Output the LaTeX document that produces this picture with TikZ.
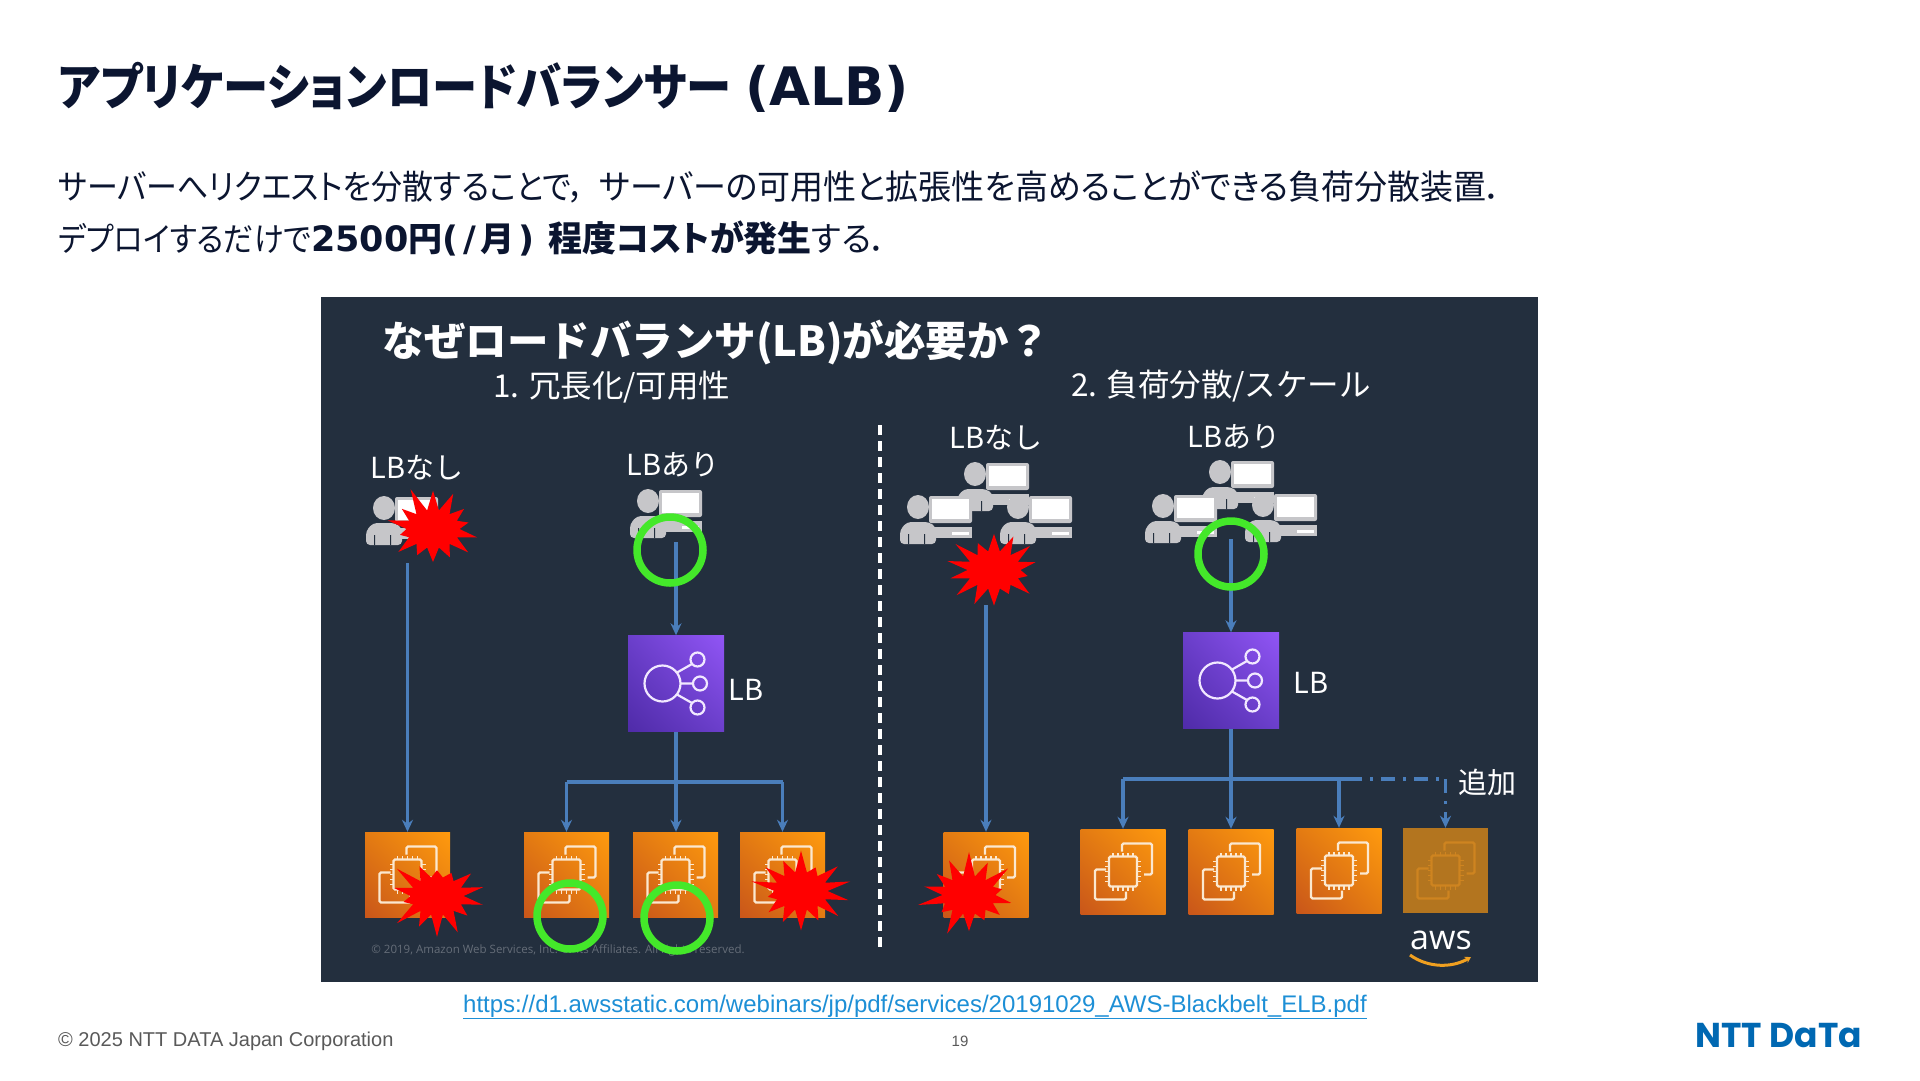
\documentclass[tikz,border=0pt]{standalone}
\usepackage{fontspec}
\setmainfont{Liberation Sans}
\newfontfamily\jp[RawFeature=+palt,FakeStretch=0.91]{Noto Sans CJK JP}
\newfontfamily\jpwide[RawFeature=+palt,FakeStretch=0.97]{Noto Sans CJK JP}
\newfontfamily\jphead[RawFeature=+palt,FakeStretch=0.905]{Noto Sans CJK JP}
\newfontfamily\jpfull{Noto Sans CJK JP}
\newfontfamily\lat{DejaVu Sans}
\newfontfamily\opn{Open Sans}
\newfontfamily\logofont{Poppins}
\usetikzlibrary{shapes.symbols,arrows.meta,shadings}
\newcommand{\fs}[1]{\fontsize{#1}{#1}\selectfont}
\definecolor{inkcol}{HTML}{0B1530}
\definecolor{panelcol}{HTML}{232F3E}
\definecolor{wirecol}{HTML}{4A7EBB}
\definecolor{greycol}{HTML}{C6C6C9}
\definecolor{redcol}{HTML}{FF0000}
\definecolor{okcol}{HTML}{44E82A}
\definecolor{linkcol}{HTML}{1D8FD6}
\definecolor{footcol}{HTML}{595959}
\definecolor{nttcol}{HTML}{0068B2}
\definecolor{smilecol}{HTML}{F0A020}
\tikzset{
  wire/.style={wirecol,line width=3.8pt,-{Stealth[length=12pt,width=11pt]}},
  trunk/.style={wirecol,line width=3.8pt},
  okring/.style={draw=okcol,line width=7.5pt,circle,inner sep=0pt,minimum size=66pt},
  burst/.style={starburst,fill=redcol,draw=none,inner sep=0pt,minimum width=105pt,minimum height=90pt,
    starburst points=14,starburst point height=26pt,random starburst=#1},
  panellabel/.style={text=white,inner sep=0pt,font=\jpfull\fs{29}},
  ec2box/.style={minimum width=85pt,minimum height=85pt,inner sep=0pt,shade,
    lower left=ec2dark,upper right=ec2light,upper left=ec2mid,lower right=ec2mid},
  dimbox/.style={minimum width=85pt,minimum height=85pt,inner sep=0pt,fill=dimfill},
  lbbox/.style={minimum width=96pt,minimum height=96pt,inner sep=0pt,shade,
    lower left=lbdark,upper right=lblight,upper left=lbmid,lower right=lbmid},
  pics/ec2icon/.style={code={
    \draw[#1,line width=2.4pt,rounded corners=1.5pt] (-1,-20)--(-1,-28)--(29,-28)--(29,3)--(21,3);
    \draw[#1,line width=2.4pt,rounded corners=1.5pt] (-17,-2)--(-28,-2)--(-28,28)--(3,28)--(3,20);
    \draw[#1,line width=2.4pt,rounded corners=1.5pt] (-14,-15) rectangle (14,15);
    \foreach \t in {-10,-5,0,5,10}{
      \draw[#1,line width=1.7pt] (\t,-15)--(\t,-19) (\t,15)--(\t,19) (-14,\t)--(-18,\t) (14,\t)--(18,\t);
    }
  }},
  pics/lbicon/.style={code={
    \draw[#1,line width=2.2pt] (-13.5,0) circle (18);
    \draw[#1,line width=2.2pt] (21.5,-24) circle (7) (24,0) circle (7) (21.5,24) circle (7);
    \draw[#1,line width=2.2pt] (1,-11)--(16,-19.5) (4.5,0)--(17,0) (1,11)--(16,19.5);
  }},
  pics/userpc/.style={code={
    \fill[greycol] (18,11) ellipse (11 and 12);
    \fill[greycol,rounded corners=4pt] (0,48)--(0,34)--(7,26)--(29,26)--(36,31)--(36,48)--cycle;
    \fill[greycol,rounded corners=2pt] (29,0) rectangle (72,27);
    \fill[white] (32,3) rectangle (69,23);
    \fill[greycol] (35,31) rectangle (72,42);
    \fill[white] (52,35.5) rectangle (69,38.5);
    \fill[panelcol] (8,38) rectangle (9,48) (24,38) rectangle (25,48);
  }}
}
\definecolor{ec2dark}{HTML}{C9561A}
\definecolor{ec2mid}{HTML}{E37B12}
\definecolor{ec2light}{HTML}{FF9A0E}
\definecolor{ec2line}{HTML}{FBE8D0}
\definecolor{dimfill}{HTML}{B3751F}
\definecolor{dimline}{HTML}{CE8420}
\definecolor{lbdark}{HTML}{4F2BA8}
\definecolor{lbmid}{HTML}{6B3FCB}
\definecolor{lblight}{HTML}{9155F5}
\definecolor{lbline}{HTML}{F1E8FF}
\begin{document}
\begin{tikzpicture}[>=stealth,x=1pt,y=-1pt]
  \useasboundingbox (0,0) rectangle (1920,1080);
  \fill[white] (0,0) rectangle (1920,1080);
  % slide text
  \node[anchor=west,inner sep=0pt,text=inkcol] (slidetitle) at (58,87) {\jphead\bfseries\fs{50}アプリケーションロードバランサー\hspace{14pt}{\lat\fs{53}(ALB)}};
  \node[anchor=west,inner sep=0pt,text=inkcol] (lineone) at (58,187) {\fs{34}{\jp サーバーへリクエストを分散することで，}\hspace{14pt}{\jpwide サーバーの可用性と拡張性を高めることができる負荷分散装置．}};
  \node[anchor=west,inner sep=0pt,text=inkcol] (linetwo) at (58,238) {\fs{34}{\jp\fs{33}デプロイするだけで}{\jpfull\bfseries{\lat\fs{35}2500}円{\lat\fs{35}(\hspace{5pt}/\hspace{4pt}}月{\lat\fs{35}\hspace{4pt})}\hspace{14pt}{\jpwide\fs{35}程度コストが発生}}{\jpwide する．}};
  % panel
  \fill[panelcol] (321,297) rectangle (1538,982);
  \node[text=white,inner sep=0pt] (paneltitle) at (716.5,343) {\jpfull\bfseries\fs{41.5}なぜロードバランサ(LB)が必要か？};
  \node[panellabel,font=\jpfull\fs{31.5}] (headone) at (612,387) {1. 冗長化/可用性};
  \node[panellabel,font=\jpfull\fs{31.5}] (headtwo) at (1221,386) {2. 負荷分散/スケール};
  \node[panellabel] (labnoA) at (417,468) {LBなし};
  \node[panellabel] (labyesA) at (673,465) {LBあり};
  \node[panellabel] (labnoB) at (996,438) {LBなし};
  \node[panellabel] (labyesB) at (1234,437) {LBあり};
  \node[panellabel] (lablbA) at (746,690) {LB};
  \node[panellabel] (lablbB) at (1311,683) {LB};
  \node[panellabel] (labadd) at (1487,782) {追加};
  \node[text=white!30!panelcol,inner sep=0pt,font=\opn\fs{11.5}] (awscopy) at (558,950) {© 2019, Amazon Web Services, Inc. or its Affiliates. All rights reserved.};
  \draw[white,line width=3.5pt,dash pattern=on 10pt off 6pt] (880,425)--(880,949);
  % users
  \pic at (366,497) {userpc};
  \pic at (630,490) {userpc};
  \pic at (957,463) {userpc};
  \pic at (900,496) {userpc};
  \pic at (1000,496) {userpc};
  \pic at (1202,461) {userpc};
  \pic at (1145,495) {userpc};
  \pic at (1245,494) {userpc};
  % balancers
  \node[lbbox] (lbA) at (676,683.5) {};
  \node[lbbox] (lbB) at (1231,680.5) {};
  \pic at (lbA) {lbicon=lbline};
  \pic at (lbB) {lbicon=lbline};
  % servers
  \node[ec2box] (srvA) at (407.5,874.5) {};
  \node[ec2box] (srvB) at (566.5,874.5) {};
  \node[ec2box] (srvC) at (675.5,874.5) {};
  \node[ec2box] (srvD) at (782.5,874.5) {};
  \node[ec2box] (srvE) at (986,874.5) {};
  \node[ec2box] (srvF) at (1123,871.5) {};
  \node[ec2box] (srvG) at (1231,871.5) {};
  \node[ec2box] (srvH) at (1339,870.5) {};
  \node[dimbox] (srvI) at (1445.5,870.5) {};
  \foreach \s in {srvA,srvB,srvC,srvD,srvE,srvF,srvG,srvH}{
    \pic at (\s) {ec2icon=ec2line};
  }
  \pic at (srvI) {ec2icon=dimline};
  % connectors
  \coordinate (startA) at (srvA.north |- 0,563);
  \coordinate (startB) at (lbA.north |- 0,542);
  \coordinate (startC) at (srvE.north |- 0,605);
  \coordinate (startD) at (lbB.north |- 0,539);
  \coordinate (forkA) at (lbA.south |- 0,782);
  \coordinate (forkB) at (lbB.south |- 0,779);
  \coordinate (dashcorner) at (srvI.north |- 0,779);
  \draw[wire] (startA)--(srvA.north);
  \draw[wire] (startB)--(lbA.north);
  \draw[wire] (startC)--(srvE.north);
  \draw[wire] (startD)--(lbB.north);
  \draw[wire] (lbA.south)--(srvC.north -| lbA.south);
  \draw[wire] (lbB.south)--(srvG.north -| lbB.south);
  \draw[trunk] (srvB.north |- forkA)--(srvD.north |- forkA);
  \draw[wire] (srvB.north |- forkA)--(srvB.north);
  \draw[wire] (srvD.north |- forkA)--(srvD.north);
  \draw[trunk] (srvF.north |- forkB)--(1348,779);
  \draw[wire] (srvF.north |- forkB)--(srvF.north);
  \draw[wire] (srvH.north |- forkB)--(srvH.north);
  \draw[trunk,dash pattern=on 14pt off 8pt on 3pt off 8pt] (1348,779)--(dashcorner);
  \draw[wire,dash pattern=on 14pt off 8pt on 3pt off 8pt] (dashcorner)--(srvI.north);
  % marks
  \node[burst=11] (hitA) at (433,529) {};
  \node[burst=23] (hitB) at (437,896) {};
  \node[burst=37] (hitC) at (801,891) {};
  \node[burst=41] (hitD) at (994,570) {};
  \node[burst=53] (hitE) at (969,895) {};
  \node[okring] (okA) at (670,550) {};
  \node[okring] (okB) at (570,916) {};
  \node[okring] (okC) at (677,918) {};
  \node[okring] (okD) at (1231,554) {};
  % aws mark
  \node[text=white,inner sep=0pt] (awsmark) at (1441,940) {\opn\fs{34}aws};
  \draw[smilecol,line width=3pt,-{Stealth[length=6pt,width=7pt]}] (1410,955) .. controls (1428,968) and (1452,968) .. (1471,957);
  % footer
  \node[text=linkcol,inner sep=0pt] (linktext) at (915,1007) {\fs{24}\underline{https://d1.awsstatic.com/webinars/jp/pdf/services/20191029\_AWS-Blackbelt\_ELB.pdf}};
  \node[anchor=west,text=footcol,inner sep=0pt] (footnote) at (58,1041) {\fs{20}© 2025 NTT DATA Japan Corporation};
  \node[text=footcol,inner sep=0pt] (pagenum) at (960,1041) {\fs{15}19};
  \node[anchor=east,text=nttcol,inner sep=0pt] (nttlogo) at (1862,1036) {\logofont\bfseries\fs{34.5}NTT DaTa};
\end{tikzpicture}
\end{document}
